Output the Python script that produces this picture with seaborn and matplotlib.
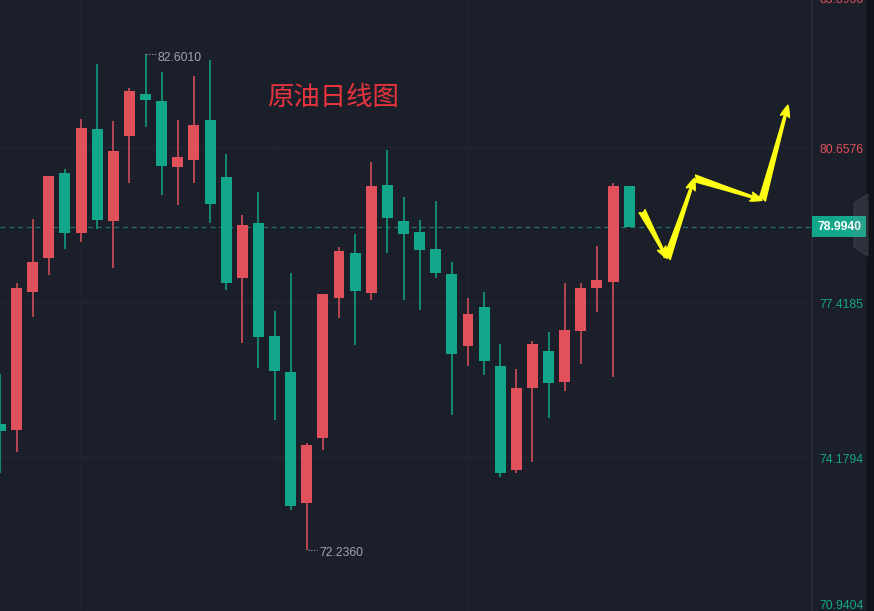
import matplotlib
matplotlib.use("Agg")
import matplotlib.pyplot as plt
from matplotlib.patches import Rectangle, Polygon
import seaborn as sns
import numpy as np

# ---------------- data ----------------
opens = [74.864, 74.738, 77.628, 78.340, 80.120, 78.863, 81.041, 79.115, 80.894, 81.774,
         81.627, 80.245, 80.392, 81.229, 80.036, 77.921, 79.073, 76.707, 75.953, 73.210,
         74.571, 77.502, 78.445, 77.607, 79.868, 79.115, 78.884, 78.528, 78.005, 76.497,
         77.314, 76.078, 73.901, 75.618, 76.393, 75.743, 76.811, 77.712, 77.837, 79.847]
highs = [75.911, 77.816, 79.156, 80.057, 80.203, 81.250, 82.402, 81.208, 81.899, 82.601,
         82.234, 81.229, 82.151, 82.486, 80.517, 79.240, 79.722, 77.230, 78.026, 74.466,
         77.586, 78.570, 78.842, 80.350, 80.601, 79.617, 79.135, 79.533, 78.256, 77.502,
         77.628, 76.539, 76.016, 76.602, 76.790, 77.816, 77.816, 78.591, 79.910, 79.847]
lows = [73.838, 74.278, 77.104, 77.984, 78.528, 78.675, 78.947, 78.130, 79.910, 81.083,
        79.659, 79.450, 79.910, 79.073, 77.670, 76.560, 76.037, 74.948, 73.063, 72.236,
        74.320, 77.084, 76.518, 77.460, 78.445, 77.460, 77.251, 77.921, 75.052, 76.078,
        75.890, 73.754, 73.838, 74.068, 74.990, 75.555, 76.120, 77.209, 75.848, 78.994]
closes = [74.718, 77.712, 78.256, 80.057, 78.863, 81.062, 79.135, 80.580, 81.836, 81.648,
          80.266, 80.455, 81.125, 79.470, 77.816, 79.031, 76.686, 75.974, 73.147, 74.424,
          77.586, 78.486, 77.649, 79.847, 79.177, 78.842, 78.507, 78.026, 76.330, 77.167,
          76.183, 73.838, 75.618, 76.539, 75.723, 76.832, 77.712, 77.879, 79.847, 78.994]

axis_ticks = [83.8966, 80.6576, 77.4185, 74.1794, 70.9404]
axis_tick_labels = ["83.8966", "80.6576", "77.4185", "74.1794", "70.9404"]
current_price = 78.9940
high_label = "82.6010"
low_label = "72.2360"
title_text = "原油日线图"

# forecast arrow path (bar index, price)
arrow_x = [39.8, 41.35, 43.05, 47.25, 48.85]
arrow_y = [79.32, 78.33, 80.01, 79.55, 81.54]

# ---------------- style ----------------
BG = "#1b1f2a"
GRID = "#222733"
UP = "#e0515b"
DOWN = "#12a68a"
LABEL_GRAY = "#9ea4ae"

sns.set_theme(style="dark", rc={"axes.facecolor": BG, "figure.facecolor": BG})
plt.rcParams["font.family"] = ["Liberation Sans", "Noto Sans CJK SC", "DejaVu Sans"]

fig = plt.figure(figsize=(8.74, 6.11), dpi=100)
ax = fig.add_axes([0, 0, 812 / 874, 1])
ax.set_facecolor(BG)

n = len(opens)
idx = np.arange(n)
o = np.array(opens); h = np.array(highs); l = np.array(lows); c = np.array(closes)
up = c >= o
colors = np.where(up, UP, DOWN)

ax.set_xlim(-0.03, 50.34)
ax.set_ylim(70.949, 83.742)

# grid
for t in axis_ticks:
    ax.axhline(t, color=GRID, lw=1.0, zorder=0)
for gx in [4.96, 16.99, 29.02]:
    ax.axvline(gx, color="#20242f", lw=1.0, zorder=0)

# wicks
ax.vlines(idx, l, h, colors=colors, lw=1.1, zorder=2)
# bodies
bottoms = np.minimum(o, c)
heights = np.maximum(np.abs(c - o), 0.03)
ax.bar(idx, heights, bottom=bottoms, width=0.68, color=colors, edgecolor="none", zorder=3)

# current price dashed line
ax.axhline(current_price, color="#24706a", lw=0.9, ls=(0, (4, 3)), zorder=1)

# right axis labels
ytr = ax.get_yaxis_transform()
for t, lab in zip(axis_ticks, axis_tick_labels):
    col = UP if t > current_price else DOWN
    if t == axis_ticks[-1]:
        ax.annotate(lab, xy=(1, t), xycoords=ytr, xytext=(7, -1), textcoords="offset pixels",
                    ha="left", va="bottom", fontsize=8.7, color=col, annotation_clip=False)
    elif t == axis_ticks[0]:
        ax.annotate(lab, xy=(1, t), xycoords=ytr, xytext=(7, -7), textcoords="offset pixels",
                    ha="left", va="center", fontsize=8.7, color=col, annotation_clip=False)
    else:
        ax.annotate(lab, xy=(1, t), xycoords=ytr, xytext=(7, -3), textcoords="offset pixels",
                    ha="left", va="center", fontsize=8.7, color=col, annotation_clip=False)

# current price tag
ax.annotate(f"{current_price:.4f}", xy=(1, current_price), xycoords=ytr,
            xytext=(5, 0), textcoords="offset pixels", ha="left", va="center",
            fontsize=8.7, color="white", fontweight="bold", annotation_clip=False,
            bbox=dict(boxstyle="square,pad=0.38", fc="#12a68a", ec="none"))

# separator line for price axis
ax.axvline(50.34, color="#2a2e39", lw=1.2, clip_on=False)
for s in ax.spines.values():
    s.set_visible(False)
ax.set_xticks([]); ax.set_yticks([])

# high / low annotations
i_hi = int(np.argmax(h)); i_lo = int(np.argmin(l))
ax.plot([i_hi + 0.05, i_hi + 0.65], [h[i_hi], h[i_hi]], ls=(0, (1, 1.5)), color=LABEL_GRAY, lw=0.8)
ax.annotate(high_label, xy=(i_hi + 0.7, h[i_hi]), xytext=(1, -4), textcoords="offset pixels",
            ha="left", va="center", fontsize=8.7, color=LABEL_GRAY)
ax.plot([i_lo + 0.05, i_lo + 0.65], [l[i_lo], l[i_lo]], ls=(0, (1, 1.5)), color=LABEL_GRAY, lw=0.8)
ax.annotate(low_label, xy=(i_lo + 0.7, l[i_lo]), xytext=(1, -3), textcoords="offset pixels",
            ha="left", va="center", fontsize=8.7, color=LABEL_GRAY)

# title
ax.text(0.41, 0.840, title_text, transform=ax.transAxes, ha="center", va="center",
        fontsize=19, color="#e8343c", family=["Noto Sans CJK SC", "DejaVu Sans"])

# forecast arrows
for k in range(len(arrow_x) - 1):
    ax.annotate("", xy=(arrow_x[k + 1], arrow_y[k + 1]), xytext=(arrow_x[k], arrow_y[k]),
                arrowprops=dict(arrowstyle="fancy,head_length=0.7,head_width=0.55,tail_width=0.4",
                                color="#ffff14", shrinkA=0, shrinkB=0, mutation_scale=12),
                zorder=6)

# right-edge decorations
fig.patches.append(Rectangle((867 / 874, 0), 7 / 874, 1, transform=fig.transFigure,
                             color="#10131a", zorder=0))
hexpts = np.array([[868, 611 - 194], [854, 611 - 203], [854, 611 - 247], [868, 611 - 256]], dtype=float)
hexpts[:, 0] /= 874; hexpts[:, 1] /= 611
fig.patches.append(Polygon(hexpts, closed=True, transform=fig.transFigure,
                           color="#8a909c", alpha=0.16, zorder=10))

fig.savefig("out.png", dpi=100, facecolor=BG)
